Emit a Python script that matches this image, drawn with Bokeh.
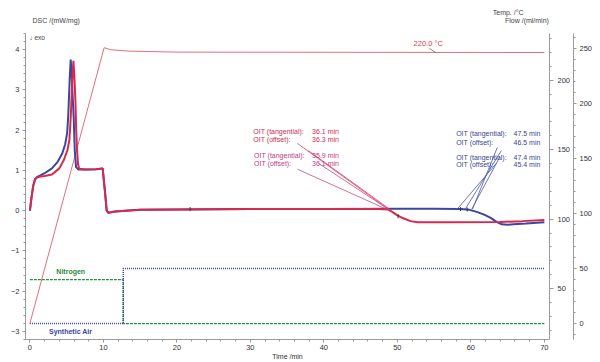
from math import pi
from bokeh.plotting import figure
from bokeh.models import Range1d, LinearAxis, Label, SingleIntervalTicker
from bokeh.layouts import column
from bokeh.embed import file_html
from bokeh.resources import INLINE

# ---------------- data ----------------
t_blue = [0.0, 0.2, 0.45, 0.7, 1.0, 1.5, 2.0, 3.0, 3.8, 4.4, 4.8, 5.06, 5.2, 5.3, 5.42, 5.55,
          5.68, 5.8, 5.96, 6.1, 6.28, 6.6, 7.5, 9.0, 9.9, 10.2, 10.45, 10.65, 11.0, 11.6,
          13.0, 15.0, 20.0, 30.0, 40.0, 50.0, 55.0, 58.6, 59.8, 60.8, 61.8, 62.7, 63.5,
          64.2, 65.0, 65.8, 67.5, 70.0]
dsc_blue = [0.0, 0.3, 0.62, 0.78, 0.84, 0.88, 0.93, 1.05, 1.22, 1.42, 1.65, 1.92, 2.3, 2.74, 3.3, 3.75,
            3.4, 2.9, 2.3, 1.5, 1.08, 1.02, 1.02, 1.03, 1.05, 0.5, 0.0, -0.05, -0.04, -0.02,
            0.0, 0.02, 0.03, 0.04, 0.04, 0.05, 0.05, 0.04, 0.02, -0.03, -0.10, -0.18, -0.28,
            -0.34, -0.35, -0.34, -0.32, -0.29]

t_red = [0.0, 0.2, 0.45, 0.7, 1.0, 1.5, 2.0, 3.0, 4.0, 4.6, 5.1, 5.37, 5.55, 5.65, 5.78, 5.92,
         6.05, 6.19, 6.3, 6.42, 6.55, 6.7, 7.5, 9.0, 9.9, 10.2, 10.45, 10.65, 11.0, 11.6,
         13.0, 15.0, 20.0, 30.0, 40.0, 47.5, 48.7, 49.3, 49.96, 50.8, 51.8, 52.8, 56.8,
         64.0, 67.0, 70.0]
dsc_red = [0.0, 0.3, 0.62, 0.78, 0.83, 0.85, 0.86, 0.90, 1.05, 1.25, 1.5, 1.75, 2.3, 2.74, 3.3, 3.72,
           3.35, 2.74, 2.0, 1.5, 1.15, 1.04, 1.02, 1.03, 1.05, 0.5, 0.0, -0.05, -0.04, -0.02,
           0.0, 0.02, 0.03, 0.04, 0.04, 0.04, 0.03, -0.03, -0.11, -0.19, -0.26, -0.29, -0.29,
           -0.28, -0.26, -0.23]

t_temp = [0.0, 10.1, 11.0, 13.5, 20.0, 70.0]
temp = [25.0, 223.5, 222.0, 221.0, 220.3, 220.0]

t_n2 = [0.0, 12.7, 12.7, 70.0]
flow_n2 = [40, 40, 0, 0]
t_air = [0.0, 12.7, 12.7, 70.0]
flow_air = [0, 0, 50, 50]

switch_time = 12.7
oit_names = ["OIT (tangential):", "OIT (offset):"]
oit_red = [36.1, 36.3]
oit_magenta = [35.9, 36.1]
oit_blue_1 = [47.5, 46.5]
oit_blue_2 = [47.4, 45.4]

# small evaluation marks on the curves
mark_t = [21.8, 50.1, 58.6, 59.5]
mark_d = [0.04, -0.14, 0.04, 0.03]

FONT = "Liberation Sans"

# ---------------- header (axis titles) ----------------
hdr = figure(width=600, height=33, x_range=Range1d(0, 600), y_range=Range1d(33, 0),
             output_backend="svg", toolbar_location=None, x_axis_type=None, y_axis_type=None,
             min_border_left=0, min_border_right=0, min_border_top=0, min_border_bottom=0)
hdr.outline_line_color = None
hdr.xgrid.visible = False
hdr.ygrid.visible = False
for x, y, txt in [(8, 20, "DSC /(mW/mg)"), (535, 12, "Temp. /°C"), (549, 20, "Flow /(ml/min)")]:
    hdr.add_layout(Label(x=x, y=y, text=txt, text_color="#444444", text_font=FONT,
                         text_font_size="7px", text_baseline="middle"))

# ---------------- main figure ----------------
p = figure(width=600, height=329, x_range=Range1d(-0.6, 70.7), y_range=Range1d(-3.2, 4.4),
           output_backend="svg", toolbar_location=None,
           min_border_left=25, min_border_top=0, min_border_right=51, min_border_bottom=22)
p.extra_y_ranges = {"temp": Range1d(13.4, 233.7), "flow": Range1d(-14.5, 263.6)}
p.xgrid.visible = False
p.ygrid.visible = False
p.outline_line_color = None

ax_t = LinearAxis(y_range_name="temp", ticker=SingleIntervalTicker(interval=50, num_minor_ticks=5))
ax_f = LinearAxis(y_range_name="flow", ticker=SingleIntervalTicker(interval=50, num_minor_ticks=5))
p.add_layout(ax_t, "right")
p.add_layout(ax_f, "right")

p.xaxis.ticker = SingleIntervalTicker(interval=10, num_minor_ticks=5)
p.yaxis[0].ticker = SingleIntervalTicker(interval=1, num_minor_ticks=5)

for ax in [p.xaxis[0], p.yaxis[0], ax_t, ax_f]:
    ax.axis_line_color = "#9a9a9a"
    ax.major_tick_line_color = "#9a9a9a"
    ax.minor_tick_line_color = "#9a9a9a"
    ax.major_tick_in = 0
    ax.major_tick_out = 3
    ax.minor_tick_in = 0
    ax.minor_tick_out = 2
    ax.major_label_text_font = FONT
    ax.major_label_text_font_size = "7.5px"
    ax.major_label_text_color = "#333333"
    ax.major_label_standoff = 3
ax_t.major_tick_out = 4
ax_t.major_label_standoff = 4
p.xaxis[0].major_label_standoff = 2
p.xaxis[0].axis_label = "Time /min"
p.xaxis[0].axis_label_text_font = FONT
p.xaxis[0].axis_label_text_font_size = "7px"
p.xaxis[0].axis_label_text_font_style = "normal"
p.xaxis[0].axis_label_text_color = "#333333"
p.xaxis[0].axis_label_standoff = 0

# flow lines
p.line(t_n2, flow_n2, y_range_name="flow", line_color="#2a9040", line_width=1.3, line_dash="3 1")
p.line(t_air, flow_air, y_range_name="flow", line_color="#3a45a5", line_width=1.5, line_dash="1 1")

# temperature
p.line(t_temp, temp, y_range_name="temp", line_color="#e0707c", line_width=1)

# DSC curves
p.line(t_blue, dsc_blue, line_color="#3b479c", line_width=2)
p.line(t_red, dsc_red, line_color="#d7284f", line_width=2)
p.scatter(mark_t, mark_d, marker="dash", angle=pi / 2, size=4, line_color="#333333", line_width=1)


# OIT leader lines
def leaders(oits, starts_t, starts_d, color):
    for o, st, sd in zip(oits, starts_t, starts_d):
        p.line([st, switch_time + o], [sd, 0.03], line_color=color, line_width=0.8)


leaders(oit_red, [36.4, 37.9], [1.67, 1.49], "#d9405a")
leaders(oit_magenta, [36.4, 39.25], [1.03, 1.18], "#c84a8a")
leaders(oit_blue_1, [63.6, 64.15], [1.57, 1.49], "#4a55a0")
leaders(oit_blue_2, [63.9, 63.5], [1.32, 1.18], "#4a55a0")


def label(x, y, text, color="#333333", size="7px", bold=False, align="left", yr="default",
          baseline="middle"):
    p.add_layout(Label(x=x, y=y, text=text, text_color=color, text_font=FONT, text_font_size=size,
                       text_font_style="bold" if bold else "normal", text_align=align,
                       text_baseline=baseline, y_range_name=yr))


def oit_block(x_name, x_val, ys, vals, color):
    for y, n, v in zip(ys, oit_names, vals):
        label(x_name, y, n, color)
        label(x_val, y, f"{v:.1f} min", color)


oit_block(30.4, 38.4, [1.975, 1.76], oit_red, "#d42a50")
oit_block(30.5, 38.4, [1.37, 1.17], oit_magenta, "#c03a8a")
oit_block(58.0, 65.8, [1.91, 1.69], oit_blue_1, "#3a4590")
oit_block(58.0, 65.8, [1.33, 1.14], oit_blue_2, "#3a4590")

# 220 °C annotation
label(52.2, 226.6, "220.0 °C", "#d9364f", "7.5px", yr="temp")
p.line([54.35, 55.2], [223.0, 220.0], y_range_name="temp", line_color="#555555", line_width=0.7)

label(-0.07, 4.4, "\u2193 exo", "#444444", "6.5px", baseline="top")
label(3.6, -1.50, "Nitrogen", "#2a8a3a", "7px", bold=True)
label(2.6, -3.0, "Synthetic Air", "#3a45a0", "7px", bold=True)

layout = column(hdr, p, spacing=0)
open("out.html", "w").write(file_html(layout, INLINE))
